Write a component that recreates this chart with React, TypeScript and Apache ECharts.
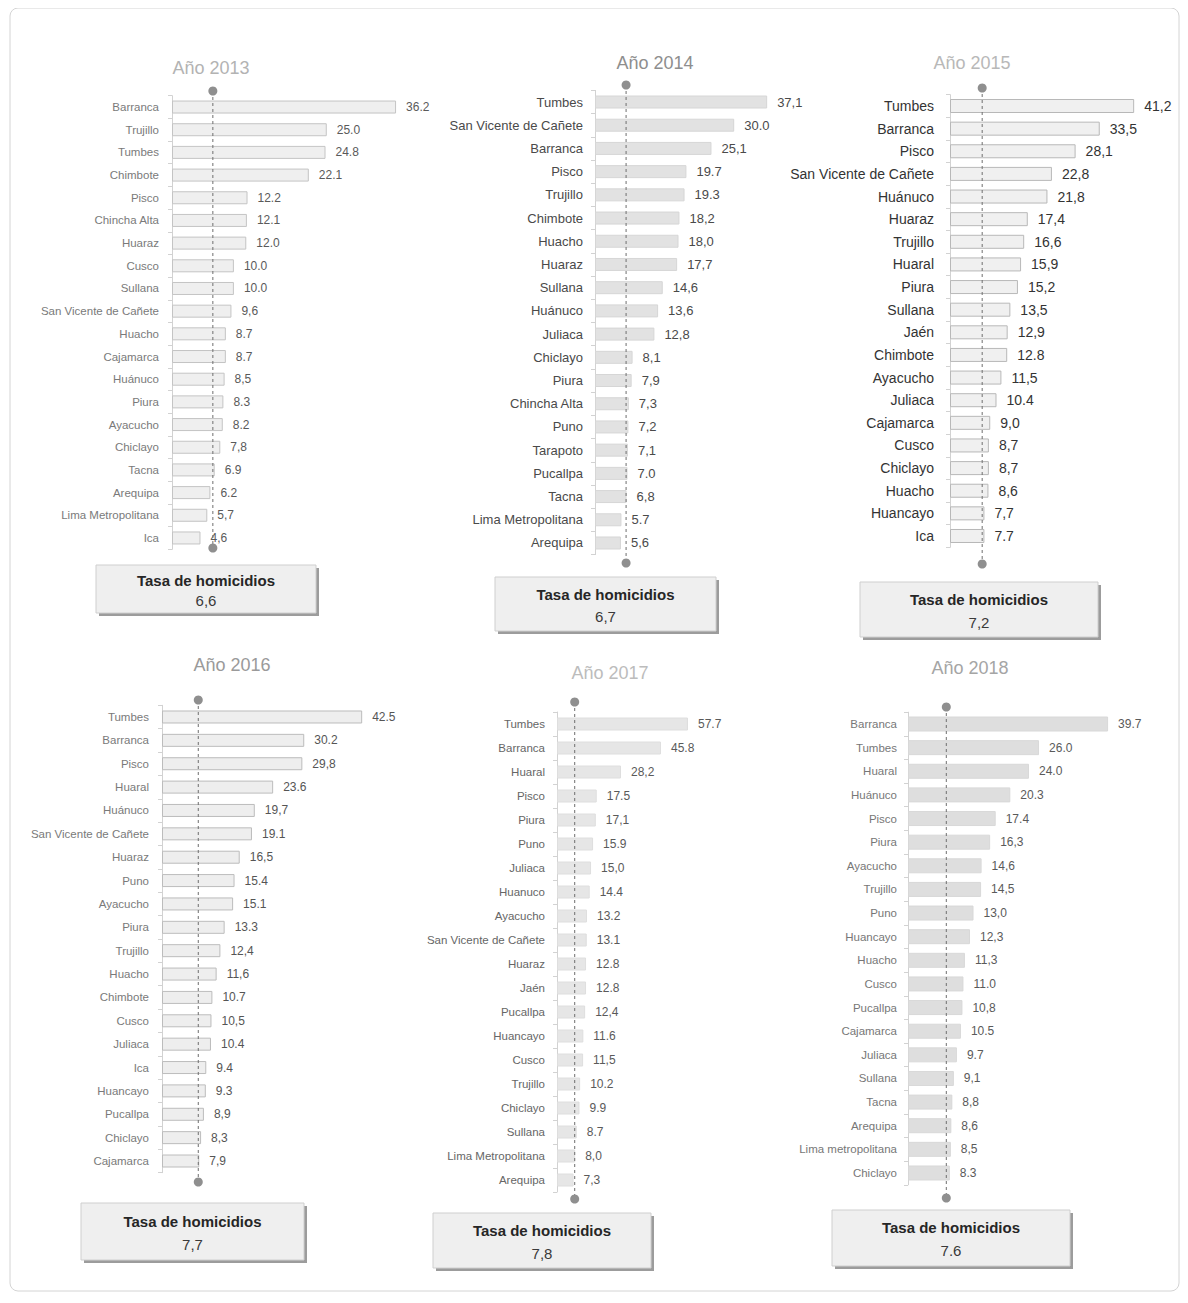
import React, { useEffect, useRef } from "react";
import * as echarts from "echarts";

// ---------------- DATA ----------------
const years = ["2013", "2014", "2015", "2016", "2017", "2018"];
const nationalRates = [6.6, 6.7, 7.2, 7.7, 7.8, 7.6];
const nationalSeps = [",", ",", ",", ",", ",", "."];
const boxTitle = "Tasa de homicidios";

const cities2013 = ["Barranca", "Trujillo", "Tumbes", "Chimbote", "Pisco", "Chincha Alta", "Huaraz", "Cusco", "Sullana", "San Vicente de Cañete", "Huacho", "Cajamarca", "Huánuco", "Piura", "Ayacucho", "Chiclayo", "Tacna", "Arequipa", "Lima Metropolitana", "Ica"];
const values2013 = [36.2, 25.0, 24.8, 22.1, 12.2, 12.1, 12.0, 10.0, 10.0, 9.6, 8.7, 8.7, 8.5, 8.3, 8.2, 7.8, 6.9, 6.2, 5.7, 4.6];
const seps2013 = ".........,..,..,..,,";

const cities2014 = ["Tumbes", "San Vicente de Cañete", "Barranca", "Pisco", "Trujillo", "Chimbote", "Huacho", "Huaraz", "Sullana", "Huánuco", "Juliaca", "Chiclayo", "Piura", "Chincha Alta", "Puno", "Tarapoto", "Pucallpa", "Tacna", "Lima Metropolitana", "Arequipa"];
const values2014 = [37.1, 30.0, 25.1, 19.7, 19.3, 18.2, 18.0, 17.7, 14.6, 13.6, 12.8, 8.1, 7.9, 7.3, 7.2, 7.1, 7.0, 6.8, 5.7, 5.6];
const seps2014 = ",.,..,,,,,,,,,,,.,.,";

const cities2015 = ["Tumbes", "Barranca", "Pisco", "San Vicente de Cañete", "Huánuco", "Huaraz", "Trujillo", "Huaral", "Piura", "Sullana", "Jaén", "Chimbote", "Ayacucho", "Juliaca", "Cajamarca", "Cusco", "Chiclayo", "Huacho", "Huancayo", "Ica"];
const values2015 = [41.2, 33.5, 28.1, 22.8, 21.8, 17.4, 16.6, 15.9, 15.2, 13.5, 12.9, 12.8, 11.5, 10.4, 9.0, 8.7, 8.7, 8.6, 7.7, 7.7];
const seps2015 = ",,,,,,,,,,,.,.,,,,,.";

const cities2016 = ["Tumbes", "Barranca", "Pisco", "Huaral", "Huánuco", "San Vicente de Cañete", "Huaraz", "Puno", "Ayacucho", "Piura", "Trujillo", "Huacho", "Chimbote", "Cusco", "Juliaca", "Ica", "Huancayo", "Pucallpa", "Chiclayo", "Cajamarca"];
const values2016 = [42.5, 30.2, 29.8, 23.6, 19.7, 19.1, 16.5, 15.4, 15.1, 13.3, 12.4, 11.6, 10.7, 10.5, 10.4, 9.4, 9.3, 8.9, 8.3, 7.9];
const seps2016 = "..,.,.,...,,.,...,,,";

const cities2017 = ["Tumbes", "Barranca", "Huaral", "Pisco", "Piura", "Puno", "Juliaca", "Huanuco", "Ayacucho", "San Vicente de Cañete", "Huaraz", "Jaén", "Pucallpa", "Huancayo", "Cusco", "Trujillo", "Chiclayo", "Sullana", "Lima Metropolitana", "Arequipa"];
const values2017 = [57.7, 45.8, 28.2, 17.5, 17.1, 15.9, 15.0, 14.4, 13.2, 13.1, 12.8, 12.8, 12.4, 11.6, 11.5, 10.2, 9.9, 8.7, 8.0, 7.3];
const seps2017 = "..,.,.,.....,.,...,,";

const cities2018 = ["Barranca", "Tumbes", "Huaral", "Huánuco", "Pisco", "Piura", "Ayacucho", "Trujillo", "Puno", "Huancayo", "Huacho", "Cusco", "Pucallpa", "Cajamarca", "Juliaca", "Sullana", "Tacna", "Arequipa", "Lima metropolitana", "Chiclayo"];
const values2018 = [39.7, 26.0, 24.0, 20.3, 17.4, 16.3, 14.6, 14.5, 13.0, 12.3, 11.3, 11.0, 10.8, 10.5, 9.7, 9.1, 8.8, 8.6, 8.5, 8.3];
const seps2018 = ".....,,,,,,.,..,,,,.";

const allCities = [cities2013, cities2014, cities2015, cities2016, cities2017, cities2018];
const allValues = [values2013, values2014, values2015, values2016, values2017, values2018];
const allSeps = [seps2013, seps2014, seps2015, seps2016, seps2017, seps2018];

// ---------------- LAYOUT / STYLE ----------------
const FONT = "'Liberation Sans', Arial, Helvetica, sans-serif";
const OFF = 8;

type Layout = {
  axisX: number; scale: number; max: number;
  bandTop: number; bandBot: number; dotTop: number; dotBot: number;
  titleX: number; titleY: number; titleColor: string;
  box: [number, number, number, number];
  catSize: number; catColor: string; valSize: number; valColor: string;
  barW: number; barFill: string; barStroke: string; labelMargin: number;
};

const layouts: Layout[] = [
  { axisX: 172, scale: 6.19, max: 40, bandTop: 95.7, bandBot: 549.3, dotTop: 91, dotBot: 548, titleX: 211, titleY: 68, titleColor: "#b3b3b3", box: [96, 565, 220, 48], catSize: 11.5, catColor: "#7a7a7a", valSize: 12, valColor: "#5a5a5a", barW: 13, barFill: "#efefef", barStroke: "#c4c4c4", labelMargin: 13 },
  { axisX: 595, scale: 4.64, max: 40, bandTop: 90.4, bandBot: 554.6, dotTop: 85, dotBot: 563, titleX: 655, titleY: 63, titleColor: "#8e8e8e", box: [495, 577, 221, 54], catSize: 13, catColor: "#4a4a4a", valSize: 13, valColor: "#4a4a4a", barW: 13, barFill: "#e2e2e2", barStroke: "#d6d6d6", labelMargin: 12 },
  { axisX: 950, scale: 4.47, max: 45, bandTop: 94.7, bandBot: 547.3, dotTop: 88, dotBot: 564, titleX: 972, titleY: 63, titleColor: "#b8b8b8", box: [860, 582, 238, 55], catSize: 14, catColor: "#333333", valSize: 14, valColor: "#333333", barW: 14, barFill: "#f0f0f0", barStroke: "#b8b8b8", labelMargin: 16 },
  { axisX: 162, scale: 4.71, max: 45, bandTop: 705.3, bandBot: 1172.7, dotTop: 700, dotBot: 1182, titleX: 232, titleY: 665, titleColor: "#9a9a9a", box: [81, 1203, 223, 57], catSize: 11.5, catColor: "#7a7a7a", valSize: 12, valColor: "#555555", barW: 13, barFill: "#eeeeee", barStroke: "#bcbcbc", labelMargin: 13 },
  { axisX: 557, scale: 2.27, max: 60, bandTop: 712, bandBot: 1192, dotTop: 702, dotBot: 1199, titleX: 610, titleY: 673, titleColor: "#bcbcbc", box: [433, 1213, 218, 55], catSize: 11.5, catColor: "#666666", valSize: 12, valColor: "#5a5a5a", barW: 13, barFill: "#e6e6e6", barStroke: "#dedede", labelMargin: 12 },
  { axisX: 908, scale: 5.04, max: 40, bandTop: 712.2, bandBot: 1184.8, dotTop: 707, dotBot: 1198, titleX: 970, titleY: 668, titleColor: "#a5a5a5", box: [832, 1210, 238, 56], catSize: 11.5, catColor: "#777777", valSize: 12, valColor: "#5a5a5a", barW: 15, barFill: "#dedede", barStroke: "#d8d8d8", labelMargin: 11 },
];

const fmt = (v: number, sep: string) => v.toFixed(1).replace(".", sep || ".");

function buildOption() {
  const grid: any[] = [];
  const xAxis: any[] = [];
  const yAxis: any[] = [];
  const series: any[] = [];
  const graphic: any[] = [];

  graphic.push({
    type: "rect",
    shape: { x: 2, y: 0, width: 1169, height: 1283, r: 8 },
    style: { fill: "none", stroke: "#d4d4d4", lineWidth: 1 },
    z: 0,
  });

  layouts.forEach((L, k) => {
    const width = L.max * L.scale;
    grid.push({ left: L.axisX - OFF, top: L.bandTop - OFF, width, height: L.bandBot - L.bandTop });
    grid.push({ left: L.axisX - OFF, top: L.dotTop - OFF, width, height: L.dotBot - L.dotTop });

    xAxis.push({ gridIndex: 2 * k, type: "value", min: 0, max: L.max, show: false });
    xAxis.push({ gridIndex: 2 * k + 1, type: "value", min: 0, max: L.max, show: false });

    yAxis.push({
      gridIndex: 2 * k,
      type: "category",
      data: allCities[k],
      inverse: true,
      axisLine: { show: true, lineStyle: { color: "#d2d2d2", width: 1 } },
      axisTick: { show: true, length: 4, lineStyle: { color: "#d2d2d2" } },
      axisLabel: { fontSize: L.catSize, color: L.catColor, fontFamily: FONT, margin: L.labelMargin },
    });
    yAxis.push({ gridIndex: 2 * k + 1, type: "value", min: 0, max: 1, inverse: true, show: false });

    const vals = allValues[k];
    const seps = allSeps[k];
    series.push({
      type: "bar",
      xAxisIndex: 2 * k,
      yAxisIndex: 2 * k,
      data: vals,
      barWidth: L.barW,
      itemStyle: { color: L.barFill, borderColor: L.barStroke, borderWidth: 1 },
      label: {
        show: true,
        position: "right",
        distance: 10,
        fontSize: L.valSize,
        color: L.valColor,
        fontFamily: FONT,
        formatter: (p: any) => fmt(vals[p.dataIndex], seps[p.dataIndex]),
      },
      silent: true,
      z: 2,
    });
    series.push({
      type: "line",
      xAxisIndex: 2 * k + 1,
      yAxisIndex: 2 * k + 1,
      data: [[nationalRates[k], 0], [nationalRates[k], 1]],
      symbol: "circle",
      symbolSize: 9,
      showSymbol: true,
      itemStyle: { color: "#8f8f8f" },
      lineStyle: { color: "#6e6e6e", width: 1, type: [3, 3] },
      silent: true,
      z: 5,
    });

    // title
    graphic.push({
      type: "text",
      x: L.titleX - OFF,
      y: L.titleY - OFF,
      style: {
        text: "Año " + years[k],
        fill: L.titleColor,
        font: `18px ${FONT}`,
        textAlign: "center",
        textVerticalAlign: "middle",
        align: "center",
        verticalAlign: "middle",
      },
    });

    // box
    const [bx, by, bw, bh] = L.box;
    graphic.push({
      type: "rect",
      shape: { x: bx - OFF + 3, y: by - OFF + 3, width: bw, height: bh },
      style: { fill: "#9c9c9c" },
      z: 1,
    });
    graphic.push({
      type: "rect",
      shape: { x: bx - OFF, y: by - OFF, width: bw, height: bh },
      style: { fill: "#efefef", stroke: "#cfcfcf", lineWidth: 1 },
      z: 2,
    });
    graphic.push({
      type: "text",
      x: bx - OFF + bw / 2,
      y: by - OFF + bh * 0.32,
      style: {
        text: boxTitle,
        fill: "#262626",
        font: `bold 15px ${FONT}`,
        textAlign: "center",
        textVerticalAlign: "middle",
        align: "center",
        verticalAlign: "middle",
      },
      z: 3,
    });
    graphic.push({
      type: "text",
      x: bx - OFF + bw / 2,
      y: by - OFF + bh * 0.73,
      style: {
        text: fmt(nationalRates[k], nationalSeps[k]),
        fill: "#3a3a3a",
        font: `15px ${FONT}`,
        textAlign: "center",
        textVerticalAlign: "middle",
        align: "center",
        verticalAlign: "middle",
      },
      z: 3,
    });
  });

  return {
    animation: false,
    backgroundColor: "#ffffff",
    grid,
    xAxis,
    yAxis,
    series,
    graphic,
  };
}

export default function App() {
  const ref = useRef<HTMLDivElement>(null);
  useEffect(() => {
    if (!ref.current) return;
    const chart = echarts.init(ref.current, undefined, { renderer: "svg" });
    chart.setOption(buildOption() as any);
    return () => chart.dispose();
  }, []);
  return <div ref={ref} style={{ width: 1172, height: 1287 }} />;
}
